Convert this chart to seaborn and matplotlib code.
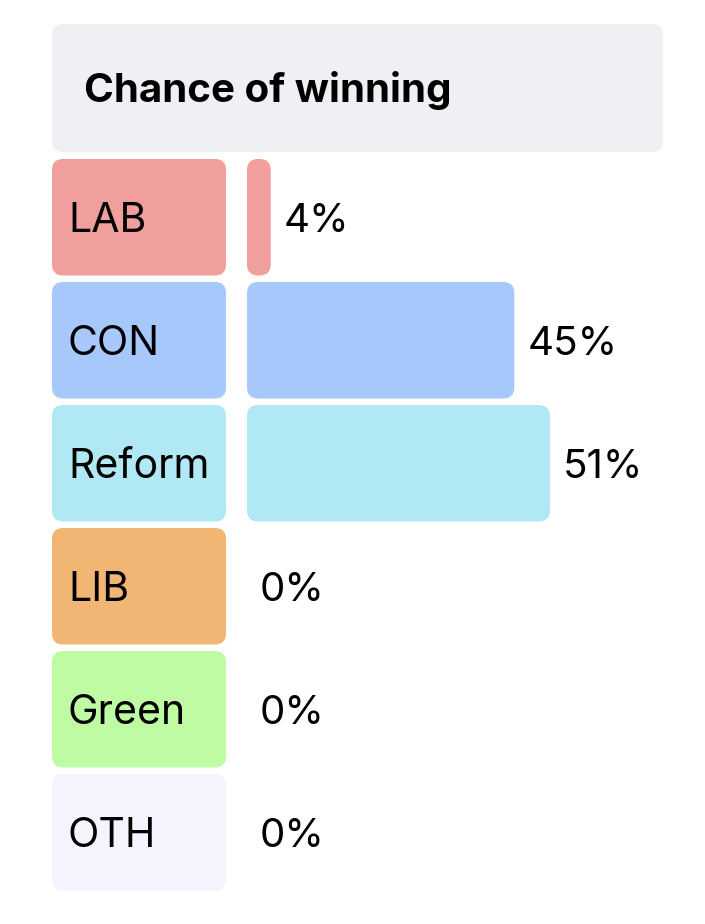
import matplotlib.pyplot as plt
from matplotlib.patches import FancyBboxPatch
import seaborn as sns
import pandas as pd

# data
parties = ['LAB', 'CON', 'Reform', 'LIB', 'Green', 'OTH']
chance = [4, 45, 51, 0, 0, 0]
colors = ['#f09f9c', '#a6c8fa', '#b0e9f4', '#f2b674', '#bffba2', '#f6f3fe']
title = 'Chance of winning'

W, H = 705, 924
PX_PER_PCT = 5.94
ROW = 123
BAR_H = 116.5


def round_bars(ax, radius):
    # swap the plain rectangles for rounded ones, keeping their geometry
    bb = ax.get_window_extent()
    x0, x1 = ax.get_xlim()
    y0, y1 = ax.get_ylim()
    px = bb.width / abs(x1 - x0)
    py = bb.height / abs(y1 - y0)
    rects = list(ax.patches)
    for r in rects:
        x, y = r.get_x(), r.get_y()
        w, h = r.get_width(), r.get_height()
        fc = r.get_facecolor()
        r.remove()
        if w <= 0:
            continue
        ax.add_patch(FancyBboxPatch((x, y), w, h,
                                    boxstyle=f'round,pad=0,rounding_size={radius / px}',
                                    mutation_aspect=px / py,
                                    facecolor=fc, edgecolor='none', zorder=2))


df = pd.DataFrame({'party': parties, 'chance': chance, 'box': [1] * len(parties)})

sns.set_theme(style='white')
plt.rcParams['font.family'] = ['Inter', 'DejaVu Sans']

fig = plt.figure(figsize=(W / 100, H / 100), dpi=100)
fig.patch.set_facecolor('white')

# background axes in pixel coords for the header
bg = fig.add_axes([0, 0, 1, 1])
bg.set_xlim(0, W)
bg.set_ylim(H, 0)
bg.axis('off')
bg.add_patch(FancyBboxPatch((52, 24), 611, 128, boxstyle='round,pad=0,rounding_size=11',
                            facecolor='#eff0f4', edgecolor='none'))
bg.text(84, 101.7, title, fontsize=29, fontweight='bold', color='black', va='baseline')

top = 159 - (ROW - BAR_H) / 2
bottom = (H - (top + ROW * len(parties))) / H
height = ROW * len(parties) / H

# label boxes
ax_lab = fig.add_axes([52 / W, bottom, 174 / W, height])
sns.barplot(data=df, x='box', y='party', hue='party', palette=colors, legend=False,
            saturation=1, width=BAR_H / ROW, orient='h', ax=ax_lab)
ax_lab.set_xlim(0, 1)
ax_lab.set_ylim(len(parties) - 0.5, -0.5)
ax_lab.axis('off')

# chance bars
ax = fig.add_axes([247 / W, bottom, (W - 247) / W, height])
sns.barplot(data=df, x='chance', y='party', hue='party', palette=colors, legend=False,
            saturation=1, width=BAR_H / ROW, orient='h', ax=ax)
ax.set_xlim(0, (W - 247) / PX_PER_PCT)
ax.set_ylim(len(parties) - 0.5, -0.5)
ax.axis('off')

round_bars(ax_lab, 11)
round_bars(ax, 11)

base_off = 14.5 / ROW
for i, (p, v) in enumerate(zip(parties, chance)):
    ax_lab.text(16 / 174, i + base_off, p, fontsize=29.5, color='black', va='baseline', zorder=3)
    ax.text(v + 13 / PX_PER_PCT, i + base_off, f'{v}%', fontsize=29, color='black',
            va='baseline', zorder=3)

fig.savefig('out.png', dpi=100, facecolor='white')
